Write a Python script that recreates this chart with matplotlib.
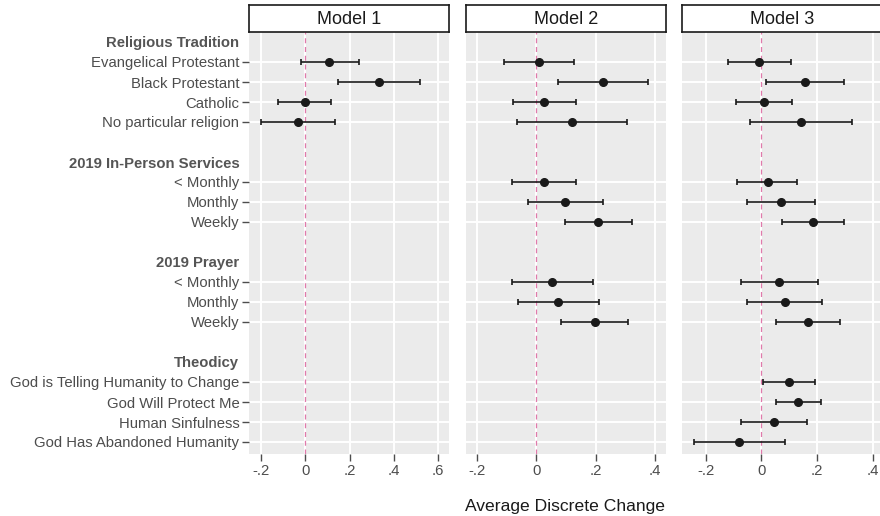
import numpy as np
import matplotlib.pyplot as plt

# row layout (top to bottom); None = empty spacer row
rows = ["Religious Tradition", "Evangelical Protestant", "Black Protestant", "Catholic",
        "No particular religion", None,
        "2019 In-Person Services", "< Monthly", "Monthly", "Weekly", None,
        "2019 Prayer", "< Monthly ", "Monthly ", "Weekly ", None,
        "Theodicy", "God is Telling Humanity to Change", "God Will Protect Me",
        "Human Sinfulness", "God Has Abandoned Humanity"]
headers = ["Religious Tradition", "2019 In-Person Services", "2019 Prayer", "Theodicy"]

models = ["Model 1", "Model 2", "Model 3"]

# estimates per model: row label -> (estimate, lower, upper)
m1_labels = ["Evangelical Protestant", "Black Protestant", "Catholic", "No particular religion"]
m1_est = [0.108, 0.333, -0.003, -0.035]
m1_lo = [-0.019, 0.149, -0.122, -0.202]
m1_hi = [0.241, 0.519, 0.117, 0.134]

m2_labels = ["Evangelical Protestant", "Black Protestant", "Catholic", "No particular religion",
             "< Monthly", "Monthly", "Weekly", "< Monthly ", "Monthly ", "Weekly "]
m2_est = [0.009, 0.225, 0.028, 0.121, 0.025, 0.097, 0.209, 0.054, 0.074, 0.197]
m2_lo = [-0.109, 0.074, -0.079, -0.063, -0.082, -0.029, 0.096, -0.082, -0.062, 0.085]
m2_hi = [0.127, 0.378, 0.133, 0.306, 0.133, 0.224, 0.322, 0.191, 0.212, 0.308]

m3_labels = ["Evangelical Protestant", "Black Protestant", "Catholic", "No particular religion",
             "< Monthly", "Monthly", "Weekly", "< Monthly ", "Monthly ", "Weekly ",
             "God is Telling Humanity to Change", "God Will Protect Me",
             "Human Sinfulness", "God Has Abandoned Humanity"]
m3_est = [-0.007, 0.156, 0.010, 0.141, 0.022, 0.070, 0.184, 0.065, 0.085, 0.168,
          0.098, 0.131, 0.044, -0.079]
m3_lo = [-0.121, 0.015, -0.092, -0.041, -0.087, -0.053, 0.075, -0.073, -0.051, 0.052,
         0.007, 0.051, -0.073, -0.242]
m3_hi = [0.108, 0.297, 0.111, 0.327, 0.129, 0.193, 0.295, 0.204, 0.219, 0.284,
         0.191, 0.213, 0.162, 0.085]

data = [(m1_labels, m1_est, m1_lo, m1_hi),
        (m2_labels, m2_est, m2_lo, m2_hi),
        (m3_labels, m3_est, m3_lo, m3_hi)]

xlims = [(-0.255, 0.65), (-0.236, 0.437), (-0.285, 0.433)]
xticks = [[-0.2, 0, 0.2, 0.4, 0.6], [-0.2, 0, 0.2, 0.4], [-0.2, 0, 0.2, 0.4]]

def fmt(v):
    if abs(v) < 1e-9:
        return "0"
    s = "%.1f" % v
    return s.replace("0.", ".")

row_pos = {lab: i for i, lab in enumerate(rows) if lab is not None}
tick_rows = [i for i, lab in enumerate(rows) if lab is not None]
tick_text = [rows[i].strip() for i in tick_rows]

plt.rcParams['font.family'] = ['Liberation Sans', 'DejaVu Sans']
fig = plt.figure(figsize=(8.8, 5.16), dpi=100)

W, H = 880, 516
panel_left = [249, 466, 682]
pw = 200
top, bottom = 32, 454
grey = "#4d4d4d"

for k in range(3):
    ax = fig.add_axes([panel_left[k] / W, 1 - bottom / H, pw / W, (bottom - top) / H])
    ax.set_facecolor("#ebebeb")
    for s in ax.spines.values():
        s.set_visible(False)
    labs, est, lo, hi = data[k]
    y = np.array([row_pos[l] for l in labs])
    est = np.array(est); lo = np.array(lo); hi = np.array(hi)

    ax.set_ylim(len(rows) - 0.4, -0.5)
    ax.set_xlim(*xlims[k])
    ax.set_xticks(xticks[k])
    ax.set_xticklabels([fmt(v) for v in xticks[k]])
    ax.set_yticks(tick_rows)
    ax.grid(True, color="white", linewidth=1.4)
    ax.set_axisbelow(True)
    ax.tick_params(axis="x", colors=grey, labelsize=10.7, length=5, width=1, pad=2)
    ax.tick_params(axis="y", colors=grey, labelsize=10.7, length=5, width=1, pad=2)

    for i, t in zip(tick_rows, ax.yaxis.get_major_ticks()):
        if rows[i] in headers:
            t.tick1line.set_visible(False)
            t.gridline.set_visible(False)
        if k > 0:
            t.tick1line.set_visible(False)

    if k == 0:
        ax.set_yticklabels(tick_text)
        for lab in ax.get_yticklabels():
            lab.set_color(grey)
            if lab.get_text() in headers:
                lab.set_fontweight("bold")
                lab.set_color("#555555")
    else:
        ax.set_yticklabels([])

    ax.axvline(0, color="#e07aab", linestyle=(0, (4, 3)), linewidth=0.9, zorder=1.5)
    ax.errorbar(est, y, xerr=[est - lo, hi - est], fmt="o", color="#1a1a1a",
                ecolor="#1a1a1a", elinewidth=1.2, capsize=2.3, capthick=1.2,
                markersize=5.5, zorder=3)

    # facet strip
    sax = fig.add_axes([panel_left[k] / W, 1 - top / H, pw / W, 27 / H])
    sax.set_xticks([]); sax.set_yticks([])
    sax.set_facecolor("white")
    for s in sax.spines.values():
        s.set_color("#1a1a1a")
        s.set_linewidth(1.2)
    sax.text(0.5, 0.48, models[k], ha="center", va="center", fontsize=13,
             color="#1a1a1a", transform=sax.transAxes)

fig.text(565 / W, 1 - 507 / H, "Average Discrete Change", ha="center", va="center",
         fontsize=12.6, color="#1a1a1a")

fig.savefig("out.png", dpi=100)
